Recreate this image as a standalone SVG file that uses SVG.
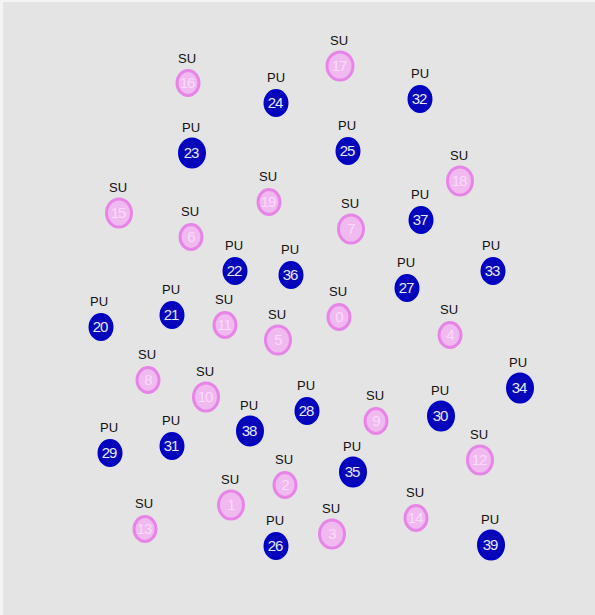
<svg xmlns="http://www.w3.org/2000/svg" width="595" height="615" viewBox="0 0 595 615">
<style>
.bg{fill:#e4e4e4}
.lbl{font-family:"Liberation Sans",Arial,sans-serif;font-size:13px;fill:#111;text-anchor:middle}
.num{font-family:"Liberation Sans",Arial,sans-serif;font-size:15px;text-anchor:middle;letter-spacing:-1px}
.su ellipse{fill:#f0b9f0;stroke:#e785e7;stroke-width:3}
.su .num{fill:#f9dcf9}
.pu ellipse{fill:#0808b8;stroke:#0000c4;stroke-width:3}
.pu .num{fill:#e6e8ff}
</style>
<rect x="0" y="0" width="595" height="615" fill="#f4f4f4"/>
<rect class="bg" x="3" y="2" width="592" height="613"/>
<g id="SU16" class="su"><text class="lbl" x="187" y="63">SU</text><ellipse cx="188" cy="83" rx="11" ry="12.5"/><text class="num" x="187" y="88">16</text></g>
<g id="SU17" class="su"><text class="lbl" x="339" y="45">SU</text><ellipse cx="340" cy="66" rx="13" ry="14"/><text class="num" x="339" y="71">17</text></g>
<g id="PU24" class="pu"><text class="lbl" x="276" y="82">PU</text><ellipse cx="276" cy="103" rx="11" ry="12.5"/><text class="num" x="275" y="108">24</text></g>
<g id="PU32" class="pu"><text class="lbl" x="420" y="78">PU</text><ellipse cx="420" cy="99" rx="11" ry="12.5"/><text class="num" x="419" y="104">32</text></g>
<g id="PU23" class="pu"><text class="lbl" x="191" y="132">PU</text><ellipse cx="192" cy="153" rx="12.5" ry="14"/><text class="num" x="191" y="158">23</text></g>
<g id="PU25" class="pu"><text class="lbl" x="347" y="130">PU</text><ellipse cx="348" cy="151" rx="11" ry="12.5"/><text class="num" x="347" y="156">25</text></g>
<g id="SU18" class="su"><text class="lbl" x="459" y="160">SU</text><ellipse cx="460" cy="181" rx="12.5" ry="14"/><text class="num" x="459" y="186">18</text></g>
<g id="SU15" class="su"><text class="lbl" x="118" y="192">SU</text><ellipse cx="119" cy="213" rx="12.5" ry="14"/><text class="num" x="118" y="218">15</text></g>
<g id="SU19" class="su"><text class="lbl" x="268" y="181">SU</text><ellipse cx="269" cy="202" rx="11" ry="12.5"/><text class="num" x="268" y="207">19</text></g>
<g id="SU6" class="su"><text class="lbl" x="190" y="216">SU</text><ellipse cx="191" cy="237" rx="11" ry="12.5"/><text class="num" x="191" y="242">6</text></g>
<g id="SU7" class="su"><text class="lbl" x="350" y="208">SU</text><ellipse cx="351" cy="229" rx="12.5" ry="14"/><text class="num" x="351" y="234">7</text></g>
<g id="PU37" class="pu"><text class="lbl" x="420" y="199">PU</text><ellipse cx="421" cy="220" rx="11" ry="12.5"/><text class="num" x="420" y="225">37</text></g>
<g id="PU22" class="pu"><text class="lbl" x="234" y="250">PU</text><ellipse cx="235" cy="271" rx="11" ry="12.5"/><text class="num" x="234" y="276">22</text></g>
<g id="PU36" class="pu"><text class="lbl" x="290" y="254">PU</text><ellipse cx="291" cy="275" rx="11" ry="12.5"/><text class="num" x="290" y="280">36</text></g>
<g id="PU27" class="pu"><text class="lbl" x="406" y="267">PU</text><ellipse cx="407" cy="288" rx="11" ry="12.5"/><text class="num" x="406" y="293">27</text></g>
<g id="PU33" class="pu"><text class="lbl" x="491" y="250">PU</text><ellipse cx="493" cy="271" rx="11" ry="12.5"/><text class="num" x="492" y="276">33</text></g>
<g id="PU20" class="pu"><text class="lbl" x="99" y="306">PU</text><ellipse cx="101" cy="327" rx="11" ry="12.5"/><text class="num" x="100" y="332">20</text></g>
<g id="PU21" class="pu"><text class="lbl" x="171" y="294">PU</text><ellipse cx="172" cy="315" rx="11" ry="12.5"/><text class="num" x="171" y="320">21</text></g>
<g id="SU11" class="su"><text class="lbl" x="224" y="304">SU</text><ellipse cx="225" cy="325" rx="11" ry="12.5"/><text class="num" x="224" y="330">11</text></g>
<g id="SU5" class="su"><text class="lbl" x="277" y="319">SU</text><ellipse cx="278" cy="340" rx="12.5" ry="14"/><text class="num" x="278" y="345">5</text></g>
<g id="SU0" class="su"><text class="lbl" x="338" y="296">SU</text><ellipse cx="339" cy="317" rx="11" ry="12.5"/><text class="num" x="339" y="322">0</text></g>
<g id="SU4" class="su"><text class="lbl" x="449" y="314">SU</text><ellipse cx="450" cy="335" rx="11" ry="12.5"/><text class="num" x="450" y="340">4</text></g>
<g id="SU8" class="su"><text class="lbl" x="147" y="359">SU</text><ellipse cx="148" cy="380" rx="11" ry="12.5"/><text class="num" x="148" y="385">8</text></g>
<g id="SU10" class="su"><text class="lbl" x="205" y="376">SU</text><ellipse cx="206" cy="397" rx="12.5" ry="14"/><text class="num" x="205" y="402">10</text></g>
<g id="PU34" class="pu"><text class="lbl" x="518" y="367">PU</text><ellipse cx="520" cy="388" rx="12.5" ry="14"/><text class="num" x="519" y="393">34</text></g>
<g id="PU28" class="pu"><text class="lbl" x="306" y="390">PU</text><ellipse cx="307" cy="411" rx="11" ry="12.5"/><text class="num" x="306" y="416">28</text></g>
<g id="SU9" class="su"><text class="lbl" x="375" y="400">SU</text><ellipse cx="376" cy="421" rx="11" ry="12.5"/><text class="num" x="376" y="426">9</text></g>
<g id="PU30" class="pu"><text class="lbl" x="440" y="395">PU</text><ellipse cx="441" cy="416" rx="12.5" ry="14"/><text class="num" x="440" y="421">30</text></g>
<g id="PU38" class="pu"><text class="lbl" x="249" y="410">PU</text><ellipse cx="250" cy="431" rx="12.5" ry="14"/><text class="num" x="249" y="436">38</text></g>
<g id="PU29" class="pu"><text class="lbl" x="109" y="432">PU</text><ellipse cx="110" cy="453" rx="11" ry="12.5"/><text class="num" x="109" y="458">29</text></g>
<g id="PU31" class="pu"><text class="lbl" x="171" y="425">PU</text><ellipse cx="172" cy="446" rx="11" ry="12.5"/><text class="num" x="171" y="451">31</text></g>
<g id="SU12" class="su"><text class="lbl" x="479" y="439">SU</text><ellipse cx="480" cy="460" rx="12.5" ry="14"/><text class="num" x="479" y="465">12</text></g>
<g id="PU35" class="pu"><text class="lbl" x="352" y="451">PU</text><ellipse cx="353" cy="472" rx="12.5" ry="14"/><text class="num" x="352" y="477">35</text></g>
<g id="SU2" class="su"><text class="lbl" x="284" y="464">SU</text><ellipse cx="285" cy="485" rx="11" ry="12.5"/><text class="num" x="285" y="490">2</text></g>
<g id="SU1" class="su"><text class="lbl" x="230" y="484">SU</text><ellipse cx="231" cy="505" rx="12.5" ry="14"/><text class="num" x="231" y="510">1</text></g>
<g id="SU14" class="su"><text class="lbl" x="415" y="497">SU</text><ellipse cx="416" cy="518" rx="11" ry="12.5"/><text class="num" x="415" y="523">14</text></g>
<g id="SU13" class="su"><text class="lbl" x="144" y="508">SU</text><ellipse cx="145" cy="529" rx="11" ry="12.5"/><text class="num" x="144" y="534">13</text></g>
<g id="SU3" class="su"><text class="lbl" x="331" y="513">SU</text><ellipse cx="332" cy="534" rx="12.5" ry="14"/><text class="num" x="332" y="539">3</text></g>
<g id="PU26" class="pu"><text class="lbl" x="275" y="525">PU</text><ellipse cx="276" cy="546" rx="11" ry="12.5"/><text class="num" x="275" y="551">26</text></g>
<g id="PU39" class="pu"><text class="lbl" x="490" y="524">PU</text><ellipse cx="491" cy="545" rx="12.5" ry="14"/><text class="num" x="490" y="550">39</text></g>
</svg>
